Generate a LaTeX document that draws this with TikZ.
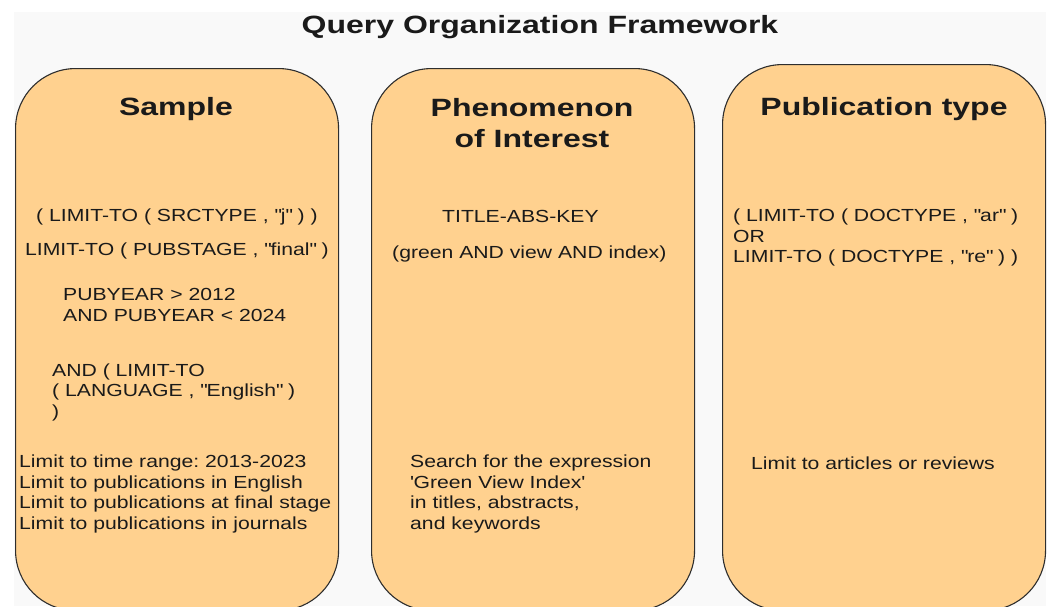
\documentclass[tikz,border=0pt]{standalone}
\usepackage{fontspec}
\setmainfont{Liberation Sans}[FakeStretch=1.21]
\newfontfamily\headfont{Liberation Sans}[FakeStretch=1.28]
\usetikzlibrary{positioning}

\definecolor{panelgray}{HTML}{F9F9F9}
\definecolor{boxorange}{HTML}{FFD18F}
\definecolor{edgegray}{HTML}{2E2E2E}
\definecolor{inkgray}{HTML}{1A1A1A}

% straight quotes, as in the query strings
\newcommand{\qq}[1]{\textquotedbl#1\textquotedbl}

\begin{document}
\frenchspacing
\begin{tikzpicture}[
    x=1pt, y=-1pt,
    column/.style={draw=edgegray, line width=1.1pt, fill=boxorange, rounded corners=60pt, minimum width=323pt, anchor=north west, inner sep=0pt},
    heading/.style={font=\headfont\fontsize{25}{31}\selectfont\bfseries, text=inkgray, align=center},
    query/.style={font=\fontsize{17.5}{20.5}\selectfont, text=inkgray, align=left, anchor=west, inner sep=0pt}
]
    \useasboundingbox (0,0) rectangle (1049,606);
    \fill[panelgray] (14,12) rectangle (1046,606);

    \node[heading] (title) at (540,27) {Query Organization Framework};

    % the three columns, all running off the bottom edge
    \foreach \x/\y [count=\i] in {15/68, 371/68, 722/64} {
        \node[column, minimum height={610-\y}] (col\i) at (\x, \y) {};
    }

    \node[heading] (sample) at (176,109) {Sample};
    \node[heading] (interest) at (532,123) {Phenomenon\\of Interest};
    \node[heading] (pubtype) at (884,109) {Publication type};

    % Sample
    \node[query] (srctype) at (36,216.5) {( LIMIT-TO ( SRCTYPE , \qq{j} ) )};
    \node[query] (stage) at (25,250.5) {LIMIT-TO ( PUBSTAGE , \qq{final} )};
    \node[query] (years) at (63,305) {PUBYEAR > 2012\\AND PUBYEAR < 2024};
    \node[query] (lang) at (52,392) {AND ( LIMIT-TO\\( LANGUAGE , \qq{English} )\\)};
    \node[query] (sample note) at (19,494) {Limit to time range: 2013-2023\\Limit to publications in English\\Limit to publications at final stage\\Limit to publications in journals};

    % Phenomenon of interest
    \node[query] (tak) at (442,216.5) {TITLE-ABS-KEY};
    \node[query] (terms) at (392,253.5) {(green AND view AND index)};
    \node[query] (interest note) at (410,494) {Search for the expression\\\textquotesingle Green View Index\textquotesingle\\in titles, abstracts,\\and keywords};

    % Publication type
    \node[query] (doctype) at (733,237.5) {( LIMIT-TO ( DOCTYPE , \qq{ar} )\\OR\\LIMIT-TO ( DOCTYPE , \qq{re} ) )};
    \node[query] (pubtype note) at (751,463) {Limit to articles or reviews};

\end{tikzpicture}
\end{document}
